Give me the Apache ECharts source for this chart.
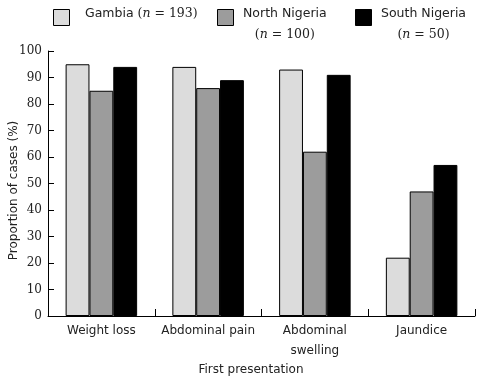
<!DOCTYPE html>
<html><head><meta charset="utf-8">
<script src="https://cdn.jsdelivr.net/npm/echarts@6/dist/echarts.min.js"></script>
<style>html,body{margin:0;padding:0;background:#fff}#c{width:482px;height:379px}</style>
</head><body><div id="c"></div>
<script>
const categories = ['Weight loss', 'Abdominal pain', 'Abdominal\nswelling', 'Jaundice'];
const seriesNames = ['Gambia', 'North Nigeria', 'South Nigeria'];
const sampleSizes = [193, 100, 50];
const gambia = [95, 94, 93, 22];
const northNigeria = [85, 86, 62, 47];
const southNigeria = [94, 89, 91, 57];
const yTicks = [0, 10, 20, 30, 40, 50, 60, 70, 80, 90, 100];
const colors = ['#dcdcdc', '#9c9c9c', '#000000'];

const values = [gambia, northNigeria, southNigeria];
const sans = 'DejaVu Sans';
const serif = 'DejaVu Serif';

const legendX = [53, 217, 355];
const legendGraphics = [];
seriesNames.forEach((name, i) => {
  legendGraphics.push({
    type: 'rect', left: legendX[i], top: 9,
    shape: { width: 16, height: 16 },
    style: { fill: colors[i], stroke: '#000', lineWidth: 1 }
  });
});
legendGraphics.push({
  type: 'text', left: 85, top: 7,
  style: {
    text: '{a|' + seriesNames[0] + ' }{b|(}{i|n}{b| = ' + sampleSizes[0] + ')}',
    rich: {
      a: { fontFamily: sans, fontSize: 12.5, fill: '#222', lineHeight: 21 },
      b: { fontFamily: serif, fontSize: 12.5, fill: '#222', lineHeight: 21 },
      i: { fontFamily: serif, fontSize: 12.5, fontStyle: 'italic', fill: '#222', lineHeight: 21 }
    }
  }
});
[1, 2].forEach(k => {
  legendGraphics.push({
    type: 'text', left: legendX[k] + 26, top: 7,
    style: {
      text: '{a|' + seriesNames[k] + '}\n{b|(}{i|n}{b| = ' + sampleSizes[k] + ')}',
      rich: {
        a: { fontFamily: sans, fontSize: 12.5, fill: '#222', lineHeight: 21, align: 'center' },
        b: { fontFamily: serif, fontSize: 12.5, fill: '#222', lineHeight: 21, align: 'center' },
        i: { fontFamily: serif, fontSize: 12.5, fontStyle: 'italic', fill: '#222', lineHeight: 21, align: 'center' }
      }
    }
  });
});

const chart = echarts.init(document.getElementById('c'), null, { renderer: 'canvas' });
chart.setOption({
  animation: false,
  backgroundColor: '#fff',
  grid: { left: 48, right: 7, top: 51, bottom: 63, containLabel: false, outerBoundsMode: 'none' },
  graphic: legendGraphics,
  xAxis: {
    type: 'category',
    data: categories,
    name: 'First presentation',
    nameLocation: 'middle',
    nameGap: 48,
    nameMoveOverlap: false,
    nameTextStyle: { fontFamily: sans, fontSize: 12, color: '#222', padding: [0, 21, 0, 0] },
    axisLine: { lineStyle: { color: '#000', width: 1 } },
    axisTick: { show: true, inside: true, length: 7, interval: 0, lineStyle: { color: '#000' } },
    axisLabel: { fontFamily: sans, fontSize: 12, color: '#222', margin: 5, lineHeight: 20, interval: 0 }
  },
  yAxis: {
    type: 'value',
    min: 0, max: 100, interval: 10,
    name: 'Proportion of cases (%)',
    nameLocation: 'middle',
    nameGap: 28,
    nameMoveOverlap: false,
    nameTextStyle: { fontFamily: sans, fontSize: 12, color: '#222', padding: [0, 14, 0, 0] },
    axisLine: { show: true, lineStyle: { color: '#000', width: 1 } },
    axisTick: { show: true, inside: true, length: 6, lineStyle: { color: '#000' } },
    splitLine: { show: false },
    axisLabel: {
      fontFamily: serif, fontSize: 12, color: '#222', margin: 6,
      formatter: v => (yTicks.indexOf(v) >= 0 ? String(v) : '')
    }
  },
  series: seriesNames.map((name, i) => ({
    name: name,
    type: 'bar',
    data: values[i],
    barGap: '0%',
    barCategoryGap: '33%',
    itemStyle: { color: colors[i], borderColor: '#000', borderWidth: 1 }
  }))
});
</script>
</body></html>
